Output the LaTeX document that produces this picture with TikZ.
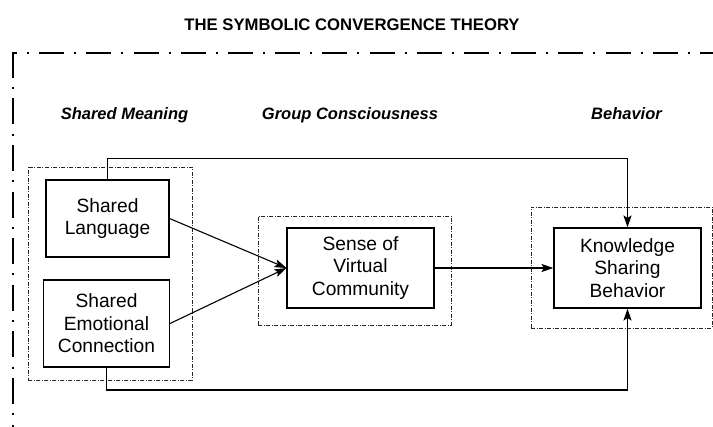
\documentclass[tikz,border=0pt]{standalone}
\usepackage{fontspec}
\setmainfont{Liberation Sans}
\usetikzlibrary{arrows.meta}
\begin{document}
\begin{tikzpicture}[x=1pt,y=-1pt,
  box/.style={draw, line width=1.1pt, inner sep=0pt, align=center, font=\fontsize{19.2}{22.5}\selectfont},
  grp/.style={draw=black!85, line width=0.9pt, inner sep=0pt, dash pattern=on 4pt off 1.5pt on 1pt off 1.5pt},
  cat/.style={font=\bfseries\itshape\fontsize{16.5}{20}\selectfont, anchor=base},
  link/.style={line width=1.1pt},
  arr/.style={link, -{Stealth[length=12pt,width=8pt,inset=2.5pt]}},
  frameline/.style={line width=2.5pt}
]
\useasboundingbox (0,0) rectangle (713,427);
\node[font=\bfseries\fontsize{16.7}{20}\selectfont, anchor=base] (title) at (352,31) {THE SYMBOLIC CONVERGENCE THEORY};
% outer frame
\coordinate (ftl) at (11.75,53);
\coordinate (ftr) at (713,53);
\coordinate (flt) at (13,51.75);
\coordinate (flb) at (13,427);
\draw[frameline, dash pattern=on 25pt off 10.1pt on 2pt off 10.1pt, dash phase=19.85pt] (ftl) -- (ftr);
\draw[frameline, dash pattern=on 26pt off 9.3pt on 2pt off 9.3pt] (flt) -- (flb);
% category labels
\node[cat] (c1) at (124.5,120) {Shared Meaning};
\node[cat] (c2) at (350,120) {Group Consciousness};
\node[cat] (c3) at (626.5,120) {Behavior};
% group boxes
\node[grp, minimum width=164pt, minimum height=213pt] (g1) at (110,273.5) {};
\node[grp, minimum width=193pt, minimum height=109pt] (g2) at (354.5,270.5) {};
\node[grp, minimum width=181pt, minimum height=121pt] (g3) at (621.5,267.5) {};
% boxes
\node[box, minimum width=123pt, minimum height=77pt] (sl) at (107.5,218.5) {Shared\\Language};
\node[box, minimum width=126pt, minimum height=87pt] (sec) at (106.5,323.5) {Shared\\Emotional\\Connection};
\node[box, minimum width=147pt, minimum height=80pt] (svc) at (360.5,268) {Sense of\\Virtual\\Community};
\node[box, minimum width=147pt, minimum height=80pt] (ksb) at (627.5,268) {Knowledge\\Sharing\\Behavior};
% connectors
\draw[arr] (sl.east) -- (svc.west);
\draw[arr] (sec.east) -- (svc.west);
\draw[arr] (svc.east) -- (ksb.west);
\draw[arr] (sl.north) -- ++(0,-21) -| (ksb.north);
\draw[arr] (sec.south) -- ++(0,22.5) -| (ksb.south);
\end{tikzpicture}
\end{document}
